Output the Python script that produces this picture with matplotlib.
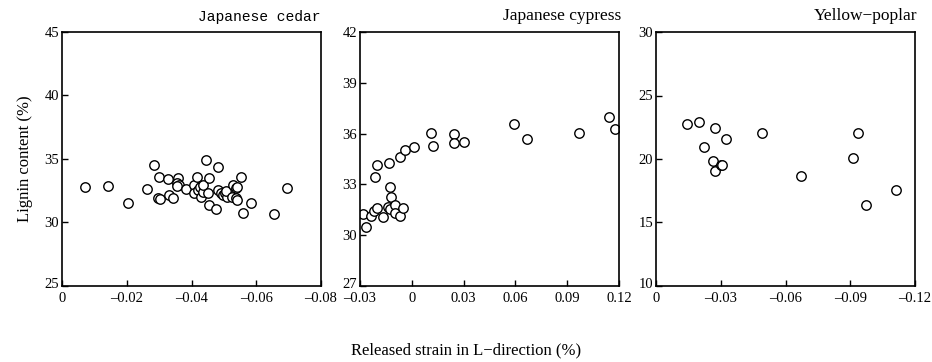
import numpy as np
import matplotlib
matplotlib.use("Agg")
import matplotlib.pyplot as plt
import matplotlib.transforms as mtransforms

plt.rcParams['font.family'] = ['Liberation Serif', 'DejaVu Serif']

# Japanese cedar
cedar_x = [-0.0071, -0.0141, -0.0205, -0.0262, -0.0283, -0.0299, -0.0298, -0.0302,
           -0.0327, -0.0332, -0.0342, -0.0358, -0.0354, -0.0361, -0.0355, -0.0384,
           -0.0409, -0.0416, -0.0409, -0.0419, -0.0425, -0.0430, -0.0435, -0.0437,
           -0.0445, -0.0455, -0.0450, -0.0455, -0.0481, -0.0476, -0.0483, -0.0491,
           -0.0496, -0.0502, -0.0509, -0.0507, -0.0527, -0.0538, -0.0542, -0.0553,
           -0.0526, -0.0538, -0.0542, -0.0584, -0.0558, -0.0655, -0.0695]
cedar_y = [32.80, 32.87, 31.51, 32.64, 34.53, 33.56, 31.91, 31.87,
           33.40, 32.17, 31.91, 33.48, 33.11, 32.95, 32.87, 32.61,
           32.95, 33.61, 32.30, 32.56, 32.82, 32.03, 32.43, 32.95,
           34.92, 33.48, 32.30, 31.38, 34.35, 31.04, 32.56, 32.30,
           32.17, 32.35, 32.03, 32.50, 32.95, 32.69, 32.82, 33.61,
           32.03, 31.91, 31.77, 31.56, 30.77, 30.67, 32.69]

# Japanese cypress
cypress_x = [-0.0283, -0.0263, -0.0238, -0.0219, -0.0200, -0.0215, -0.0200, -0.0167,
             -0.0138, -0.0134, -0.0128, -0.0122, -0.0125, -0.0095, -0.0095, -0.0070,
             -0.0051, -0.0070, -0.0038, 0.0010, 0.0111, 0.0121, 0.0246, 0.0244,
             0.0304, 0.0594, 0.0665, 0.0970, 0.1144, 0.1177]
cypress_y = [31.25, 30.50, 31.13, 31.45, 31.59, 33.46, 34.15, 31.09,
             31.68, 34.28, 32.87, 32.24, 31.55, 31.78, 31.33, 31.13,
             31.59, 34.60, 35.03, 35.23, 36.02, 35.27, 35.98, 35.43,
             35.49, 36.55, 35.66, 36.02, 37.00, 36.25]

# Yellow-poplar
poplar_x = [-0.0142, -0.0198, -0.0224, -0.0275, -0.0266, -0.0273, -0.0302, -0.0306,
            -0.0324, -0.0493, -0.0672, -0.0914, -0.0937, -0.0973, -0.1112]
poplar_y = [22.76, 22.94, 20.97, 22.42, 19.84, 19.08, 19.55, 19.50,
            21.60, 22.02, 18.66, 20.10, 22.02, 16.38, 17.56]

titles = ["Japanese cedar", "Japanese cypress", "Yellow\u2212poplar"]
xlims = [(0, -0.08), (-0.03, 0.12), (0, -0.12)]
ylims = [(25, 45), (27, 42), (10, 30)]
xticks = [[0, -0.02, -0.04, -0.06, -0.08],
          [-0.03, 0, 0.03, 0.06, 0.09, 0.12],
          [0, -0.03, -0.06, -0.09, -0.12]]
yticks = [[25, 30, 35, 40, 45], [27, 30, 33, 36, 39, 42], [10, 15, 20, 25, 30]]
data = [(cedar_x, cedar_y), (cypress_x, cypress_y), (poplar_x, poplar_y)]

def fmt(v):
    if v == 0:
        return "0"
    s = f"{abs(v):.2f}"
    return ("\u2013" + s) if v < 0 else s

fig = plt.figure(figsize=(9.32, 3.62), dpi=100)
lefts = [62, 360, 656]
for i in range(3):
    ax = fig.add_axes([lefts[i] / 932, 1 - 286 / 362, 259 / 932, 254 / 362])
    x, y = data[i]
    ax.plot(x, y, 'o', mfc='white', mec='black', ms=6.8, mew=1.0, ls='none')
    ax.set_xlim(*xlims[i])
    ax.set_ylim(*ylims[i])
    ax.set_xticks(xticks[i])
    ax.set_xticklabels([fmt(v) for v in xticks[i]])
    ax.set_yticks(yticks[i])
    ax.set_yticklabels([str(v) for v in yticks[i]])
    ax.tick_params(direction='in', length=4, width=1, labelsize=10.5,
                   top=False, right=False)
    ax.tick_params(axis='x', pad=4)
    ax.tick_params(axis='y', pad=2)
    # nudge the lowest y label up a little, as in the original
    lab = ax.get_yticklabels()[0]
    lab.set_transform(lab.get_transform() +
                      mtransforms.ScaledTranslation(0, 2.5 / 100, fig.dpi_scale_trans))
    for sp in ax.spines.values():
        sp.set_linewidth(1.2)
    if i == 0:
        ax.text(1.0, 1.03, titles[i], transform=ax.transAxes, ha='right', va='bottom',
                fontsize=10.5, family=['Liberation Mono', 'DejaVu Sans Mono'])
    else:
        ax.text(1.01, 1.03, titles[i], transform=ax.transAxes, ha='right', va='bottom',
                fontsize=12.5)
    if i == 0:
        ax.set_ylabel("Lignin content (%)", fontsize=12, labelpad=8)

fig.text(466 / 932, 1 - 350 / 362, "Released strain in L\u2212direction (%)",
         ha='center', va='center', fontsize=12)

fig.savefig("out.png", dpi=100)
